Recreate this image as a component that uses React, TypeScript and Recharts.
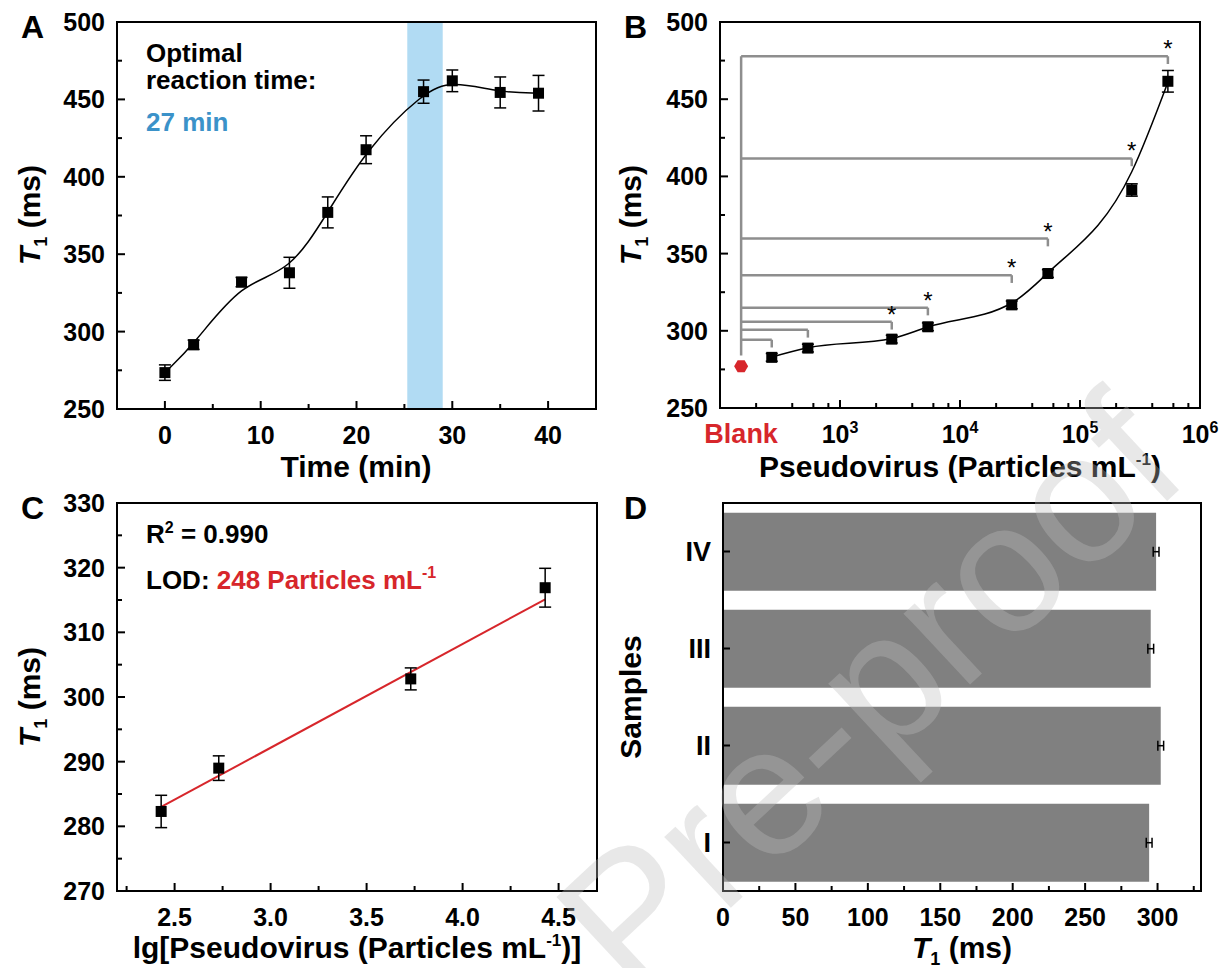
import React from 'react'
import {
  ComposedChart, BarChart, Bar, Line, XAxis, YAxis, ErrorBar,
  ReferenceArea, ReferenceLine,
} from 'recharts'

const FONT = '"Liberation Sans", Arial, Helvetica, sans-serif'
const RED = '#d7262b'
const BLUE_TEXT = '#3b92c9'
const BAND = '#b1dbf3'
const BRACKET = '#8e8e8e'
const BAR_GRAY = '#808080'

// --- panel A: T1 vs reaction time
const timeMin = [0, 3, 8, 13, 17, 21, 27, 30, 35, 39]
const t1Time = [273.5, 291.5, 332, 338, 377, 417.5, 455, 462, 454.5, 454]
const t1TimeErr = [5, 3, 3, 10, 10, 9, 7.5, 7, 10, 11.5]
const optimalBand = [25.3, 29]
const ticksAx = [0, 5, 10, 15, 20, 25, 30, 35, 40]
const ticksAy = [250, 275, 300, 325, 350, 375, 400, 425, 450, 475, 500]

// --- panel B: T1 vs concentration (log)
const conc = [270, 540, 2700, 5400, 27000, 54000, 270000, 540000]
const t1Conc = [282.8, 288.8, 294.6, 302.6, 316.8, 337.1, 391.2, 461.6]
const t1ConcErr = [2.5, 2.5, 2.5, 2.5, 2.5, 2.5, 4, 7]
const t1ConcFit = [283, 289, 295, 302.5, 318, 337.5, 403, 461]
const blankX = 150
const blankT1 = 277
const bracketLevels = [294.2, 300.6, 305.8, 315, 336, 359.7, 411.6, 477.8]
const bracketStars = [false, false, true, true, true, true, true, true]
const bracketDrop = 5
const bracketBase = 284
const ticksBx = [150, 200, 400, 600, 800, 1000, 2000, 4000, 6000, 8000, 10000,
  20000, 40000, 60000, 80000, 100000, 200000, 400000, 600000, 800000, 1000000]
const majorsBx = [1000, 10000, 100000, 1000000]

// --- panel C: linear range
const lgConc = [2.43, 2.73, 3.73, 4.43]
const t1Lg = [282.3, 289.0, 302.8, 316.9]
const t1LgErr = [2.5, 1.9, 1.7, 3]
const fitLgX = [2.43, 4.43]
const fitLgY = [283.0, 315.1]
const ticksCx = [2.25, 2.5, 2.75, 3, 3.25, 3.5, 3.75, 4, 4.25, 4.5]
const ticksCy = [270, 275, 280, 285, 290, 295, 300, 305, 310, 315, 320, 325, 330]

// --- panel D: samples
const samples = ['IV', 'III', 'II', 'I']
const t1Samples = [299, 295.3, 302.2, 294.2]
const t1SamplesErr = [2, 2, 2, 2]
const ticksDx = [0, 25, 50, 75, 100, 125, 150, 175, 200, 225, 250, 275, 300, 325]

const dataA = timeMin.map((t, i) => ({ t, v: t1Time[i], err: t1TimeErr[i] }))
const pointsB = conc.map((x, i) => ({ x, v: t1Conc[i], err: t1ConcErr[i] }))
const fitB = conc.map((x, i) => ({ x, v: t1ConcFit[i] }))
const blankB = [{ x: blankX, v: blankT1 }]
const starsB = conc.map((x, i) => ({ x, v: bracketLevels[i], show: bracketStars[i] })).filter(d => d.show)
const dataC = lgConc.map((x, i) => ({ x, v: t1Lg[i], err: t1LgErr[i] }))
const fitC = fitLgX.map((x, i) => ({ x, v: fitLgY[i] }))
const dataD = samples.map((name, i) => ({ name, v: t1Samples[i], err: t1SamplesErr[i] }))

const TICK_FS = 25

type TickOpts = {
  len: (v: any) => number
  label: (v: any) => React.ReactNode
  fill?: (v: any) => string
  size?: (v: any) => number
}

const bottomTick = (o: TickOpts) => (p: any) => {
  const v = p.payload.value
  const lab = o.label(v)
  const len = o.len(v)
  return (
    <g key={`b-${v}`}>
      {len > 0 && <line x1={p.x} y1={p.y} x2={p.x} y2={p.y - len} stroke="#000" strokeWidth={2} />}
      {lab != null && (
        <text x={p.x} y={p.y + 35} textAnchor="middle" fontFamily={FONT} fontWeight="bold"
          fontSize={o.size ? o.size(v) : TICK_FS} fill={o.fill ? o.fill(v) : '#000'}>{lab}</text>
      )}
    </g>
  )
}

const leftTick = (o: TickOpts) => (p: any) => {
  const v = p.payload.value
  const lab = o.label(v)
  const len = o.len(v)
  return (
    <g key={`l-${v}`}>
      {len > 0 && <line x1={p.x} y1={p.y} x2={p.x + len} y2={p.y} stroke="#000" strokeWidth={2} />}
      {lab != null && (
        <text x={p.x - 12} y={p.y + 9} textAnchor="end" fontFamily={FONT} fontWeight="bold"
          fontSize={o.size ? o.size(v) : TICK_FS} fill="#000">{lab}</text>
      )}
    </g>
  )
}

const every = (step: number) => (v: number) => Math.abs(v / step - Math.round(v / step)) < 1e-6

const squareDot = (p: any) => {
  if (p.cx == null || p.cy == null) return <g key={p.index} />
  return <rect key={p.index} x={p.cx - 5.5} y={p.cy - 5.5} width={11} height={11} fill="#000" />
}

const hexDot = (p: any) => {
  if (p.cx == null || p.cy == null) return <g key={p.index} />
  const r = 7
  const pts = [0, 60, 120, 180, 240, 300].map(a => {
    const rad = (a * Math.PI) / 180
    return `${p.cx + r * Math.cos(rad)},${p.cy + r * Math.sin(rad)}`
  }).join(' ')
  return <polygon key={p.index} points={pts} fill={RED} />
}

const starDot = (p: any) => {
  if (p.cx == null || p.cy == null) return <g key={p.index} />
  return (
    <text key={p.index} x={p.cx} y={p.cy + 1} textAnchor="middle" fontFamily={FONT}
      fontSize={24} fill="#000">*</text>
  )
}

const sup = (base: string, exp: string) => (
  <>
    <tspan>{base}</tspan>
    <tspan fontSize={16} dy={-10}>{exp}</tspan>
  </>
)

// axes are 1px thick boxes; the frame divs draw the lines
const axisCommon = {
  tickSize: 0,
  tickMargin: 0,
  axisLine: false,
  tickLine: false,
  interval: 0 as const,
  allowDataOverflow: true,
}

function Frame({ x, y, w, h }: { x: number; y: number; w: number; h: number }) {
  return (
    <div style={{
      position: 'absolute', left: x - 1, top: y - 1, width: w + 2, height: h + 2,
      border: '2px solid #000', boxSizing: 'border-box', pointerEvents: 'none',
    }} />
  )
}

function T1Text({ size }: { size: number }) {
  return (
    <>
      <tspan fontStyle="italic">T</tspan>
      <tspan fontSize={size * 0.6} dy={7}>1</tspan>
      <tspan dy={-7}> (ms)</tspan>
    </>
  )
}

function Overlay() {
  const big = 30
  const yTitle = (cx: number, cy: number, content: React.ReactNode) => (
    <text transform={`translate(${cx + 10},${cy}) rotate(-90)`} textAnchor="middle"
      fontFamily={FONT} fontWeight="bold" fontSize={big}>{content}</text>
  )
  const xTitle = (cx: number, y: number, content: React.ReactNode) => (
    <text x={cx} y={y} textAnchor="middle" fontFamily={FONT} fontWeight="bold" fontSize={big}>{content}</text>
  )
  const mL = (
    <>
      <tspan>mL</tspan>
      <tspan fontSize={17} dy={-12}>-1</tspan>
      <tspan dy={12}>)</tspan>
    </>
  )
  return (
    <svg width={1228} height={968} style={{ position: 'absolute', left: 0, top: 0, pointerEvents: 'none' }}>
      <g fontFamily={FONT} fontWeight="bold" fontSize={32}>
        <text x={21} y={38}>A</text>
        <text x={624} y={38}>B</text>
        <text x={21} y={519}>C</text>
        <text x={624} y={519}>D</text>
      </g>
      <g fontFamily={FONT} fontWeight="bold" fontSize={26}>
        <text x={146} y={62}>Optimal</text>
        <text x={146} y={89}>reaction time:</text>
        <text x={146} y={131} fill={BLUE_TEXT}>27 min</text>
        <text x={146} y={543}>R<tspan fontSize={16} dy={-10}>2</tspan><tspan dy={10}> = 0.990</tspan></text>
        <text x={146} y={589}>LOD: <tspan fill={RED}>248 Particles mL</tspan><tspan fill={RED} fontSize={16} dy={-11}>-1</tspan></text>
      </g>
      {xTitle(356, 477, 'Time (min)')}
      {yTitle(30, 215, <T1Text size={big} />)}
      {xTitle(960, 477, <>Pseudovirus (Particles {mL}</>)}
      {yTitle(631, 215, <T1Text size={big} />)}
      {xTitle(357, 958, <>lg[Pseudovirus (Particles {mL}]</>)}
      {yTitle(30, 697, <T1Text size={big} />)}
      {xTitle(962, 958, <T1Text size={big} />)}
      {yTitle(631, 697, 'Samples')}
      <text x={878} y={752} transform="rotate(-43 878 702)" textAnchor="middle" fontFamily={FONT}
        fontSize={184} fill="rgba(190,190,190,0.35)">Pre-proof</text>
    </svg>
  )
}

function PanelA() {
  return (
    <ComposedChart width={600} height={490} data={dataA} margin={{ top: 22, right: 4, bottom: 80, left: 116 }}>
      <XAxis {...axisCommon} type="number" dataKey="t" domain={[-5, 45]} ticks={ticksAx} height={1}
        tick={bottomTick({ len: v => (every(10)(v) ? 8 : 5), label: v => (every(10)(v) ? v : null) })} />
      <YAxis {...axisCommon} type="number" domain={[250, 500]} ticks={ticksAy} width={1}
        tick={leftTick({ len: v => (every(50)(v) ? 8 : 5), label: v => (every(50)(v) ? v : null) })} />
      <ReferenceArea x1={optimalBand[0]} x2={optimalBand[1]} fill={BAND} fillOpacity={1} stroke="none" />
      <Line type="basis" dataKey="v" stroke="#000" strokeWidth={1.5} dot={squareDot} isAnimationActive={false}>
        <ErrorBar dataKey="err" direction="y" width={6} stroke="#000" strokeWidth={1.5} />
      </Line>
    </ComposedChart>
  )
}

function PanelB() {
  const labelB = (v: number) => {
    if (v === blankX) return 'Blank'
    if (v === 1000) return sup('10', '3')
    if (v === 10000) return sup('10', '4')
    if (v === 100000) return sup('10', '5')
    if (v === 1000000) return sup('10', '6')
    return null
  }
  return (
    <ComposedChart width={628} height={490} margin={{ top: 22, right: 28, bottom: 81, left: 119 }}>
      <XAxis {...axisCommon} type="number" dataKey="x" scale="log" domain={[100, 1000000]} ticks={ticksBx} height={1}
        tick={bottomTick({
          len: v => (v === blankX ? 0 : majorsBx.includes(v) ? 8 : 5),
          label: labelB,
          fill: v => (v === blankX ? RED : '#000'),
          size: v => (v === blankX ? 27 : TICK_FS),
        })} />
      <YAxis {...axisCommon} type="number" domain={[250, 500]} ticks={ticksAy} width={1}
        tick={leftTick({ len: v => (every(50)(v) ? 8 : 5), label: v => (every(50)(v) ? v : null) })} />
      <ReferenceLine segment={[{ x: blankX, y: bracketBase }, { x: blankX, y: bracketLevels[bracketLevels.length - 1] }]}
        stroke={BRACKET} strokeWidth={2.5} />
      {conc.map((x, i) => (
        <ReferenceLine key={`h${i}`} segment={[{ x: blankX, y: bracketLevels[i] }, { x, y: bracketLevels[i] }]}
          stroke={BRACKET} strokeWidth={2.5} />
      ))}
      {conc.map((x, i) => (
        <ReferenceLine key={`d${i}`} segment={[{ x, y: bracketLevels[i] }, { x, y: bracketLevels[i] - bracketDrop }]}
          stroke={BRACKET} strokeWidth={2.5} />
      ))}
      <Line data={fitB} type="monotone" dataKey="v" stroke="#000" strokeWidth={1.5} dot={false} isAnimationActive={false} />
      <Line data={pointsB} dataKey="v" stroke="none" dot={squareDot} isAnimationActive={false}>
        <ErrorBar dataKey="err" direction="y" width={6} stroke="#000" strokeWidth={1.5} />
      </Line>
      <Line data={blankB} dataKey="v" stroke="none" dot={hexDot} isAnimationActive={false} />
      <Line data={starsB} dataKey="v" stroke="none" dot={starDot} isAnimationActive={false} />
    </ComposedChart>
  )
}

function PanelC() {
  return (
    <ComposedChart width={600} height={488} margin={{ top: 23, right: 3, bottom: 76, left: 116 }}>
      <XAxis {...axisCommon} type="number" dataKey="x" domain={[2.2, 4.7]} ticks={ticksCx} height={1}
        tick={bottomTick({ len: v => (every(0.5)(v) ? 8 : 5), label: v => (every(0.5)(v) ? Number(v).toFixed(1) : null) })} />
      <YAxis {...axisCommon} type="number" domain={[270, 330]} ticks={ticksCy} width={1}
        tick={leftTick({ len: v => (every(10)(v) ? 8 : 5), label: v => (every(10)(v) ? v : null) })} />
      <Line data={fitC} type="linear" dataKey="v" stroke={RED} strokeWidth={2} dot={false} isAnimationActive={false} />
      <Line data={dataC} dataKey="v" stroke="none" dot={squareDot} isAnimationActive={false}>
        <ErrorBar dataKey="err" direction="y" width={6} stroke="#000" strokeWidth={1.5} />
      </Line>
    </ComposedChart>
  )
}

function PanelD() {
  return (
    <BarChart width={628} height={488} layout="vertical" data={dataD} barCategoryGap="10%"
      margin={{ top: 23, right: 27, bottom: 76, left: 122 }}>
      <XAxis {...axisCommon} type="number" domain={[0, 330]} ticks={ticksDx} height={1}
        tick={bottomTick({ len: v => (every(50)(v) ? 8 : 5), label: v => (every(50)(v) ? v : null) })} />
      <YAxis {...axisCommon} type="category" dataKey="name" width={1}
        tick={leftTick({ len: () => 7, label: v => v, size: () => 27 })} />
      <Bar dataKey="v" fill={BAR_GRAY} isAnimationActive={false}>
        <ErrorBar dataKey="err" direction="x" width={5} stroke="#000" strokeWidth={1.5} />
      </Bar>
    </BarChart>
  )
}

export default function App() {
  return (
    <div style={{ position: 'absolute', left: 0, top: 0, width: 1228, height: 968, background: '#fff', fontFamily: FONT }}>
      <div style={{ position: 'absolute', left: 0, top: 0 }}><PanelA /></div>
      <div style={{ position: 'absolute', left: 600, top: 0 }}><PanelB /></div>
      <div style={{ position: 'absolute', left: 0, top: 480 }}><PanelC /></div>
      <div style={{ position: 'absolute', left: 600, top: 480 }}><PanelD /></div>
      <Frame x={117} y={22} w={479} h={387} />
      <Frame x={720} y={22} w={480} h={386} />
      <Frame x={117} y={503} w={480} h={388} />
      <Frame x={723} y={503} w={478} h={388} />
      <Overlay />
    </div>
  )
}
